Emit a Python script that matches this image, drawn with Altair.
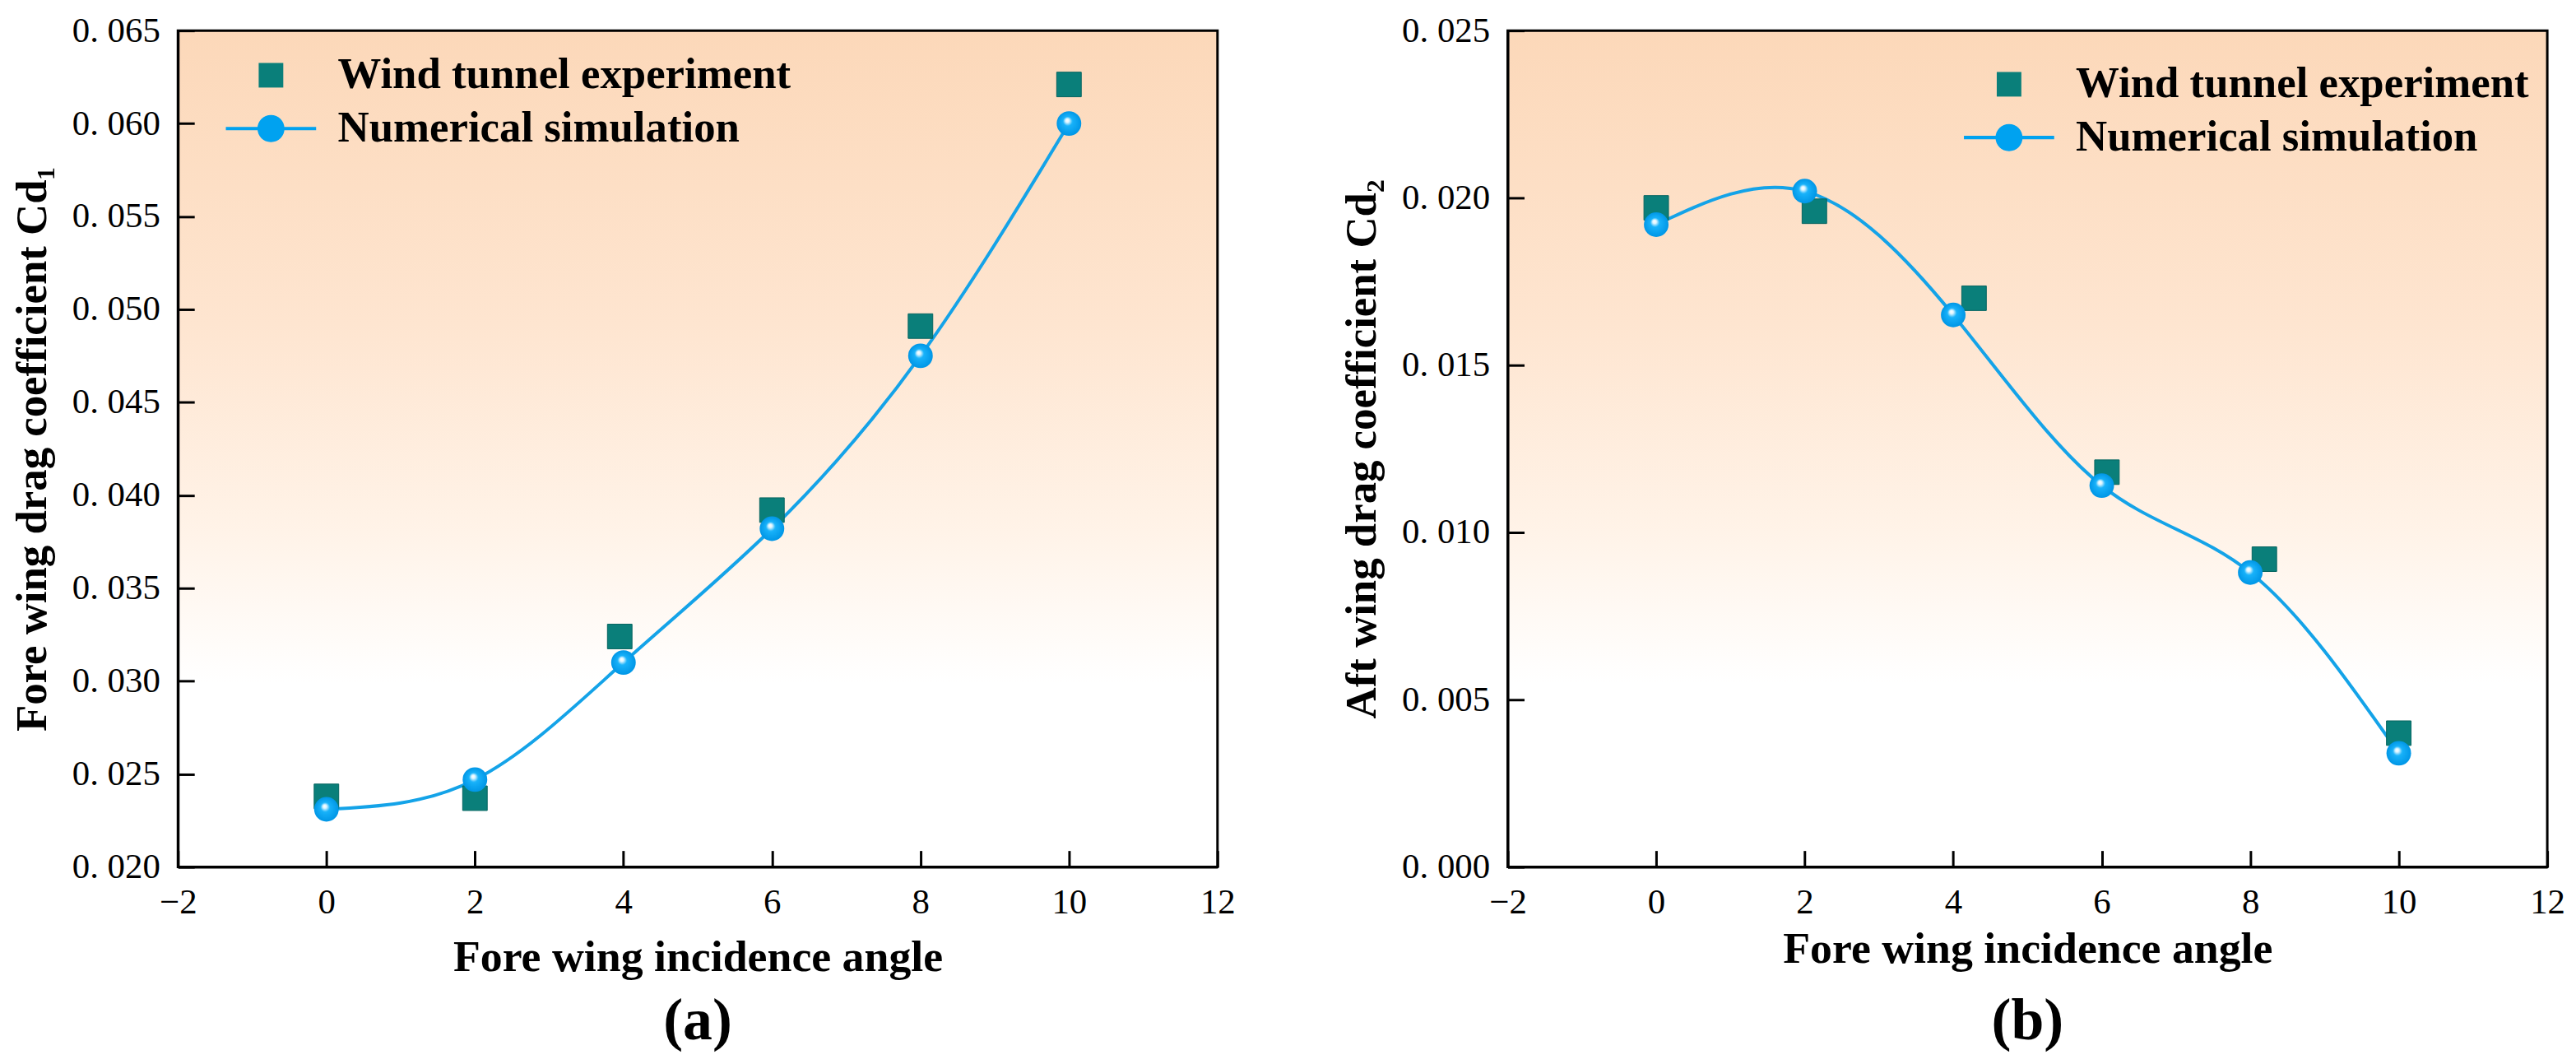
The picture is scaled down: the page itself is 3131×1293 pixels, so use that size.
import altair as alt
import pandas as pd

# ---------------- data ----------------
series_names = ["Wind tunnel experiment", "Numerical simulation"]
x_ticks = [-2, 0, 2, 4, 6, 8, 10, 12]

# panel (a)
angle_a_exp = [0, 2, 3.95, 6, 8, 10]
cd1_exp = [0.0238, 0.0237, 0.0324, 0.0392, 0.0491, 0.0621]
angle_a_num = [0, 2, 4, 6, 8, 10]
cd1_num = [0.0231, 0.0247, 0.0310, 0.0382, 0.0475, 0.0600]
y_ticks_a = [0.020, 0.025, 0.030, 0.035, 0.040, 0.045, 0.050, 0.055, 0.060, 0.065]

# panel (b)
angle_b_exp = [0, 2.13, 4.28, 6.07, 8.19, 10]
cd2_exp = [0.0197, 0.0196, 0.0170, 0.0118, 0.0092, 0.0040]
angle_b_num = [0, 2, 4, 6, 8, 10]
cd2_num = [0.0192, 0.0202, 0.0165, 0.0114, 0.0088, 0.0034]
y_ticks_b = [0.000, 0.005, 0.010, 0.015, 0.020, 0.025]

# ---------------- style ----------------
FONT = "Liberation Serif"
TEAL = "#0A7F7A"
BLUE = "#00A2F0"
LINE_BLUE = "#14A3E8"
W, H = 1268, 1020

bg_gradient = alt.LinearGradient(
    gradient="linear",
    stops=[
        alt.GradientStop(offset=0, color="#FCD8B9"),
        alt.GradientStop(offset=0.35, color="#FEE5D0"),
        alt.GradientStop(offset=0.6, color="#FFF3E8"),
        alt.GradientStop(offset=0.78, color="#FFFFFF"),
        alt.GradientStop(offset=1, color="#FFFFFF"),
    ],
    x1=0, x2=0, y1=0, y2=1,
)

sphere = alt.RadialGradient(
    gradient="radial",
    stops=[
        alt.GradientStop(offset=0, color="#FFFFFF"),
        alt.GradientStop(offset=0.15, color="#E0F6FF"),
        alt.GradientStop(offset=0.38, color="#18B2FA"),
        alt.GradientStop(offset=1, color="#0096E6"),
    ],
    x1=0.42, y1=0.36, r1=0, x2=0.5, y2=0.5, r2=0.5,
)

# legend symbol for the simulation: line segment with a circle
LINE_CIRCLE = (
    "M-3.67,-0.14H-1.05V0.14H-3.67Z "
    "M1.05,-0.14H3.67V0.14H1.05Z "
    "M1.1,0A1.1,1.1,0,1,1,-1.1,0A1.1,1.1,0,1,1,1.1,0Z"
)


def panel(xe, ye, xn, yn, ydomain, yticks, ytitle, lx, ly, xtitle_pad, caption, cap_offset):
    exp = pd.DataFrame({"angle": xe, "cd": ye, "series": series_names[0]})
    num = pd.DataFrame({"angle": xn, "cd": yn, "series": series_names[1]})

    xscale = alt.Scale(domain=[-2, 12], nice=False, zero=False)
    yscale = alt.Scale(domain=ydomain, nice=False, zero=False)

    main_x = alt.Axis(
        orient="bottom",
        values=x_ticks, ticks=False, tickSize=0, domain=True, domainColor="black",
        domainWidth=3, grid=False, labelFont=FONT, labelFontSize=43, labelColor="black",
        labelPadding=22, labelFlush=False, title="Fore wing incidence angle",
        titleFont=FONT, titleFontSize=54, titleFontWeight="bold", titleColor="black",
        titlePadding=xtitle_pad, zindex=1,
    )
    main_y = alt.Axis(
        orient="left",
        values=yticks, ticks=False, tickSize=0, domain=True, domainColor="black",
        domainWidth=3, grid=False, labelFont=FONT, labelFontSize=43, labelColor="black",
        labelPadding=22, labelFlush=False,
        labelExpr="replace(format(datum.value, '.3f'), '.', '. ')",
        title=ytitle, titleFont=FONT, titleFontSize=53, titleFontWeight="bold",
        titleColor="black", titlePadding=21, zindex=1,
    )
    tick_x = alt.Axis(
        values=x_ticks, orient="bottom", offset=-20, tickSize=20, tickWidth=3,
        tickColor="black", labels=False, domain=False, grid=False, title=None, zindex=1,
    )
    tick_y = alt.Axis(
        values=yticks, orient="left", offset=-20, tickSize=20, tickWidth=3,
        tickColor="black", labels=False, domain=False, grid=False, title=None, zindex=1,
    )

    leg = alt.Legend(
        title=None, orient="none", legendX=lx, legendY=ly, symbolSize=900,
        symbolStrokeWidth=0, labelFont=FONT, labelFontSize=53, labelFontWeight="bold",
        labelColor="black", labelOffset=55, rowPadding=11, padding=0, labelLimit=0,
    )

    bg = alt.Chart(alt.Data(values=[{}])).mark_rect(
        fill=bg_gradient, stroke="black", strokeWidth=3
    ).encode(x=alt.value(0), x2=alt.value("width"), y=alt.value(0), y2=alt.value("height"))

    line = alt.Chart(num).mark_line(
        color=LINE_BLUE, strokeWidth=4, interpolate="natural"
    ).encode(
        x=alt.X("angle:Q", scale=xscale, axis=tick_x),
        y=alt.Y("cd:Q", scale=yscale, axis=tick_y),
    )

    squares = alt.Chart(exp).mark_point(
        filled=True, size=900, opacity=1, stroke="#05645F", strokeWidth=1
    ).encode(
        x=alt.X("angle:Q", scale=xscale, axis=main_x),
        y=alt.Y("cd:Q", scale=yscale, axis=main_y),
        fill=alt.Fill("series:N", scale=alt.Scale(domain=series_names, range=[TEAL, BLUE]), legend=leg),
        shape=alt.Shape("series:N", scale=alt.Scale(domain=series_names, range=["square", LINE_CIRCLE]), legend=leg),
    )

    circles = alt.Chart(num).mark_point(
        filled=True, size=900, fill=sphere, opacity=1, strokeWidth=0, shape="circle"
    ).encode(
        x=alt.X("angle:Q", scale=xscale, axis=None),
        y=alt.Y("cd:Q", scale=yscale, axis=None),
    )

    return alt.layer(bg, line, squares, circles).resolve_axis(
        x="independent", y="independent"
    ).properties(
        width=W, height=H,
        title=alt.TitleParams(
            caption, orient="bottom", anchor="middle", frame="group", font=FONT,
            fontSize=72, fontWeight="bold", color="black", offset=cap_offset,
        ),
    )


left = panel(angle_a_exp, cd1_exp, angle_a_num, cd1_num, [0.020, 0.065], y_ticks_a,
             "Fore wing drag coefficient Cd\u2081", 87, 28, 18, "(a)", 16)
right = panel(angle_b_exp, cd2_exp, angle_b_num, cd2_num, [0.0, 0.025], y_ticks_b,
              "Aft wing drag coefficient Cd\u2082", 585, 39, 8, "(b)", 26)

chart = alt.hconcat(left, right, spacing=128).resolve_scale(
    fill="independent", shape="independent"
).configure_view(stroke="transparent").configure(background="white")

chart.save("out.html", embed_options={"renderer": "svg", "actions": False})
